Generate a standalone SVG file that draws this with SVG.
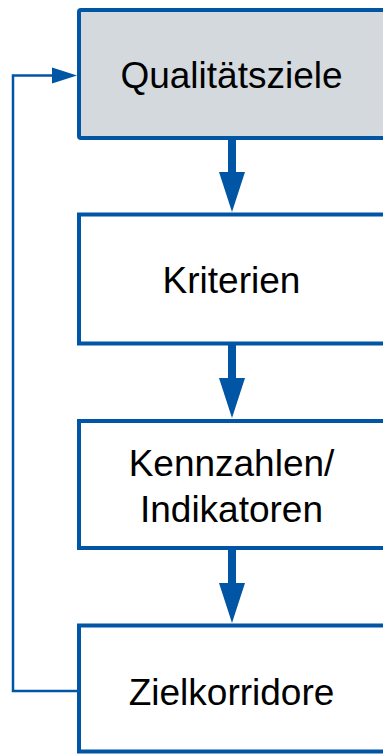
<svg xmlns="http://www.w3.org/2000/svg" width="383" height="754" viewBox="0 0 383 754">
<style>
.box{fill:#ffffff;stroke:#0055a5;stroke-width:4}
.top{fill:#d4d9de}
.lbl{font-family:"Liberation Sans",Arial,sans-serif;font-size:37px;fill:#000;text-anchor:middle}
.shaft{stroke:#0055a5;stroke-width:8;fill:none}
.head{fill:#0055a5}
.fb{stroke:#0055a5;stroke-width:2.5;fill:none}
</style>
<g id="connectors">
<line class="shaft" x1="232" y1="140" x2="232" y2="174"/>
<polygon class="head" points="219,172 245,172 232,212"/>
<line class="shaft" x1="232" y1="345" x2="232" y2="380"/>
<polygon class="head" points="219,378 245,378 232,418"/>
<line class="shaft" x1="232" y1="550" x2="232" y2="585"/>
<polygon class="head" points="219,583 245,583 232,623"/>
<polyline class="fb" points="79,691 13,691 13,75.5 54,75.5"/>
<polygon class="head" points="52,67.5 77,75.5 52,83.5"/>
</g>
<g id="node-qualitaetsziele">
<rect class="box top" x="79" y="10" width="307" height="128" rx="2"/>
<text class="lbl" x="231.5" y="88">Qualitätsziele</text>
</g>
<g id="node-kriterien">
<rect class="box" x="79" y="214.5" width="307" height="129"/>
<text class="lbl" x="231.5" y="293">Kriterien</text>
</g>
<g id="node-kennzahlen">
<rect class="box" x="79" y="421" width="307" height="127"/>
<text class="lbl" x="231.5" y="476">Kennzahlen/</text>
<text class="lbl" x="231.5" y="522">Indikatoren</text>
</g>
<g id="node-zielkorridore">
<rect class="box" x="79" y="625.5" width="307" height="126"/>
<text class="lbl" x="231.5" y="705">Zielkorridore</text>
</g>
</svg>
